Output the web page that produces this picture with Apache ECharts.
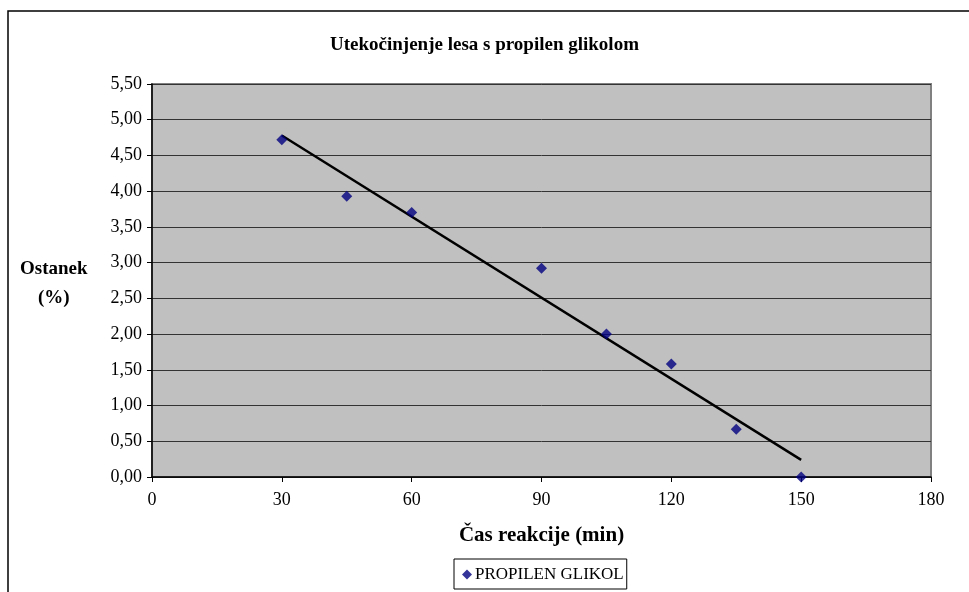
<!DOCTYPE html>
<html>
<head>
<meta charset="utf-8">
<title>Utekočinjenje lesa s propilen glikolom</title>
<script src="https://cdn.jsdelivr.net/npm/echarts@6/dist/echarts.min.js"></script>
<style>
  html, body { margin: 0; padding: 0; background: #fff; }
  #chart { width: 969px; height: 592px; }
</style>
</head>
<body>
<div id="chart"></div>
<script>
// reaction time (min) vs. residue (%)
var times = [30, 45, 60, 90, 105, 120, 135, 150];
var residue = [4.72, 3.93, 3.70, 2.92, 2.00, 1.58, 0.67, 0.00];
// linear trendline ends
var trendX = [30, 150];
var trendY = [4.78, 0.24];
var xTicks = [0, 30, 60, 90, 120, 150, 180];

var serif = "'Liberation Serif', 'DejaVu Serif', serif";

function comma(v) { return v.toFixed(2).replace(".", ","); }

var chart = echarts.init(document.getElementById("chart"));
chart.setOption({
  animation: false,
  backgroundColor: "#fff",
  title: {
    text: "Utekočinjenje lesa s propilen glikolom",
    left: "center", top: 31,
    textStyle: { fontFamily: serif, fontSize: 19, fontWeight: "bold", color: "#000" }
  },
  grid: {
    left: 152, right: 38, top: 84, bottom: 115,
    show: true, backgroundColor: "#C0C0C0", borderColor: "#808080", borderWidth: 2
  },
  legend: {
    data: [{ name: "PROPILEN GLIKOL", icon: "diamond" }],
    left: 454, top: 559,
    itemWidth: 10, itemHeight: 10, itemGap: 6,
    padding: [7, 3, 6, 8],
    borderColor: "#000", borderWidth: 1,
    textStyle: { fontFamily: serif, fontSize: 17, color: "#000", padding: [0, 0, 0, -2] }
  },
  xAxis: {
    type: "value", min: xTicks[0], max: xTicks[xTicks.length - 1], interval: 30,
    name: "Čas reakcije (min)", nameLocation: "middle", nameGap: 48,
    nameTextStyle: { fontFamily: serif, fontSize: 21, fontWeight: "bold", color: "#000" },
    axisLine: { lineStyle: { color: "#000", width: 1.5 } },
    axisTick: { show: true, length: 5, lineStyle: { color: "#000" } },
    axisLabel: { fontFamily: serif, fontSize: 18, color: "#000", margin: 14 },
    splitLine: { show: false }
  },
  yAxis: {
    type: "value", min: 0, max: 5.5, interval: 0.5,
    axisLine: { show: true, lineStyle: { color: "#000", width: 1.5 } },
    axisTick: { show: true, length: 5, lineStyle: { color: "#000" } },
    axisLabel: { fontFamily: serif, fontSize: 18, color: "#000", margin: 10, formatter: comma },
    splitLine: { show: true, lineStyle: { color: "#333", width: 1 } }
  },
  graphic: [
    {
      type: "rect", silent: true, z: -10,
      shape: { x: 8, y: 11, width: 1200, height: 1000 },
      style: { fill: "none", stroke: "#000", lineWidth: 1.5 }
    },
    {
      type: "text", left: 20, top: 255,
      style: {
        text: "Ostanek\n(%)", textAlign: "center", fill: "#000",
        font: "bold 19px " + serif, lineHeight: 29, x: 36
      }
    }
  ],
  series: [
    {
      name: "Trend", type: "line", showSymbol: false, z: 3,
      data: trendX.map(function (x, i) { return [x, trendY[i]]; }),
      lineStyle: { color: "#000", width: 2.5 }
    },
    {
      name: "PROPILEN GLIKOL", type: "scatter", symbol: "diamond", symbolSize: 11, z: 4,
      data: times.map(function (x, i) { return [x, residue[i]]; }),
      itemStyle: { color: "#000080" }
    }
  ]
});
</script>
</body>
</html>
